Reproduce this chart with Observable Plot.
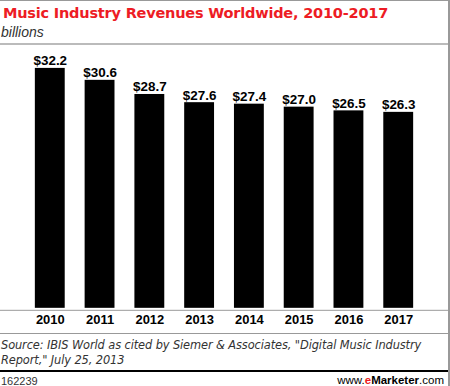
<!DOCTYPE html>
<html>
<head>
<meta charset="utf-8">
<script src="https://cdn.jsdelivr.net/npm/d3@7"></script>
<script src="https://cdn.jsdelivr.net/npm/@observablehq/plot@0.6"></script>
<style>
  html, body { margin: 0; padding: 0; background: #fff; }
  #wrap { position: relative; width: 450px; height: 386px; overflow: hidden; background: #fff;
          border-top: 1px solid #999; border-right: 2px solid #999; box-sizing: border-box; }
  .abs { position: absolute; white-space: nowrap; }
  #title { left: 3px; top: 4px; font: bold 14.5px "DejaVu Sans", sans-serif; color: #ed1c24; letter-spacing: -0.2px; }
  #subtitle { left: 1px; top: 23px; font: italic 14px "Liberation Sans", Arial, sans-serif; color: #333; }
  #hline { left: 0; top: 42px; width: 450px; height: 2px; background: #bbb; }
  #chart { left: 0; top: 45px; }
  #sline { left: 0; top: 332px; width: 450px; height: 1px; background: #999; }
  #source { left: 1px; top: 337px; font: italic 11.4px "DejaVu Sans", sans-serif; letter-spacing: -0.1px; line-height: 15px; color: #333; }
  #bline { left: 0; top: 369px; width: 450px; height: 2px; background: #000; }
  #code { left: 1px; top: 374px; font: 11px "Liberation Sans", Arial, sans-serif; color: #333; }
  #brand { right: 4px; top: 373px; font: 11.5px "Liberation Sans", Arial, sans-serif; color: #000; }
  #brand b { font-weight: bold; }
  #brand .e { color: #ed1c24; font-weight: bold; }
</style>
</head>
<body>
<div id="wrap">
  <div id="title" class="abs">Music Industry Revenues Worldwide, 2010-2017</div>
  <div id="subtitle" class="abs">billions</div>
  <div id="hline" class="abs"></div>
  <div id="chart" class="abs"></div>
  <div id="sline" class="abs"></div>
  <div id="source" class="abs">Source: IBIS World as cited by Siemer &amp; Associates, "Digital Music Industry<br>Report," July 25, 2013</div>
  <div id="bline" class="abs"></div>
  <div id="code" class="abs">162239</div>
  <div id="brand" class="abs">www.<span class="e">e</span><b>Marketer</b>.com</div>
</div>
<script>
const years = ["2010", "2011", "2012", "2013", "2014", "2015", "2016", "2017"];
const revenues = [32.2, 30.6, 28.7, 27.6, 27.4, 27.0, 26.5, 26.3];
const data = years.map((year, i) => ({year, value: revenues[i]}));

const chart = Plot.plot({
  width: 450,
  height: 287,
  marginLeft: 25,
  marginRight: 25,
  marginTop: 22,
  marginBottom: 24,
  style: {background: "transparent", overflow: "visible"},
  x: {domain: years, paddingInner: 0.4, paddingOuter: 0.2, label: null},
  y: {domain: [0, 32.2], axis: null},
  marks: [
    Plot.barY(data, {x: "year", y: "value", fill: "#000"}),
    Plot.ruleY([0], {stroke: "#999", strokeWidth: 1, dy: 2, insetLeft: -25, insetRight: -25}),
    Plot.text(data, {x: "year", y: "value", text: d => "$" + d.value.toFixed(1),
      lineAnchor: "bottom", dy: -3, fontFamily: "Liberation Sans, Arial, sans-serif",
      fontWeight: "bold", fontSize: 13.5, fill: "#000"}),
    Plot.axisX({tickSize: 0, tickPadding: 7, fontFamily: "Liberation Sans, Arial, sans-serif",
      fontWeight: "bold", fontSize: 13, fill: "#000", label: null})
  ]
});
document.getElementById("chart").appendChild(chart);
</script>
</body>
</html>
